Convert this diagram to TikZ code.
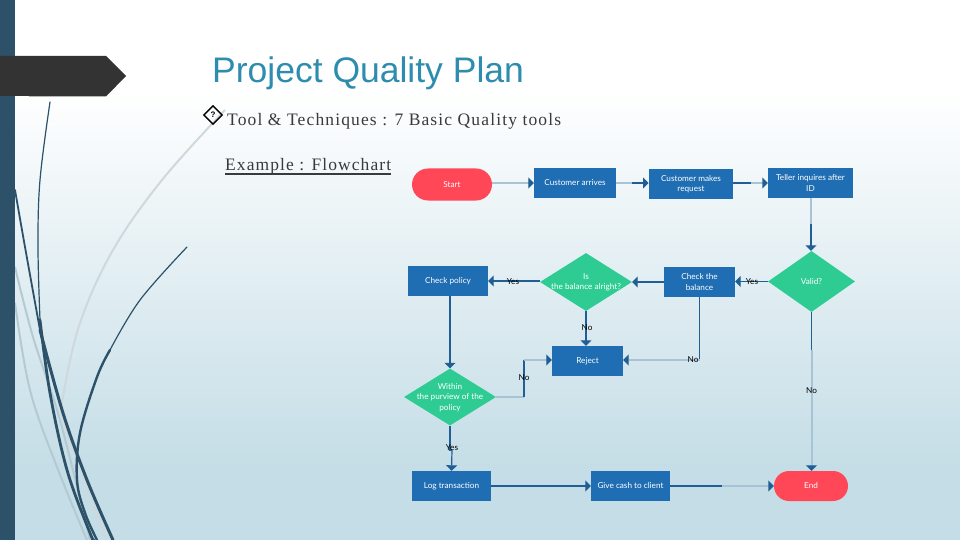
\documentclass[tikz,border=0pt]{standalone}
\usepackage{fontspec}
\setmainfont{Liberation Serif}
\newfontfamily\titlefont{Liberation Sans}
\newfontfamily\chartfont{Lato}
\usetikzlibrary{shapes.geometric,shapes.misc,arrows.meta,positioning}
\definecolor{barblue}{HTML}{2C5169}
\definecolor{tagdark}{HTML}{333333}
\definecolor{titleblue}{HTML}{2E8CAE}
\definecolor{bodygrey}{HTML}{3A3A3A}
\definecolor{boxblue}{HTML}{1F6DB3}
\definecolor{linkdark}{HTML}{1F5F95}
\definecolor{linklight}{HTML}{A8C3D6}
\definecolor{dgreen}{HTML}{2ECC93}
\definecolor{tred}{HTML}{FF4757}
\definecolor{bgend}{HTML}{C4DDE6}
\definecolor{swirlgrey}{HTML}{CFD8DC}
\definecolor{swirlblue}{HTML}{B4CAD3}
\newcommand\dtext[1]{\makebox[0pt][c]{\smash{\raisebox{-2.5pt}{$\vcenter{\hbox{\begin{tabular}{@{}c@{}}#1\end{tabular}}}$}}}}
\tikzset{
  x=1pt,y=-1pt,
  chart/.style={font=\chartfont\fontsize{8.2}{10.5}\selectfont,text=white,align=center,inner sep=0pt},
  proc/.style={chart,fill=boxblue,draw=none,minimum height=30pt},
  dec/.style={chart,fill=dgreen,diamond},
  term/.style={chart,fill=tred,rounded rectangle,minimum height=32pt},
  lab/.style={font=\chartfont\fontsize{8.2}{10}\selectfont,text=black,inner sep=0pt},
  darkl/.style={draw=linkdark,line width=1.2pt},
  lightl/.style={draw=linklight,line width=2pt},
  tip/.style={-{Triangle[length=5.5pt,width=11pt,color=linkdark]}},
  swirl/.style={draw=barblue,line cap=round},
}
\begin{document}
\begin{tikzpicture}
\useasboundingbox (0,0) rectangle (960,540);
% background
\fill[white] (0,0) rectangle (960,90);
\shade[top color=white,bottom color=bgend] (0,90) rectangle (960,470);
\fill[bgend] (0,470) rectangle (960,540);
% swirls
\draw[swirlblue,line width=2pt] plot[smooth,tension=.6] coordinates {(15,267) (33,337) (60,420) (90,540)};
\draw[swirlblue,line width=2pt] plot[smooth,tension=.6] coordinates {(15,303) (30,390) (57,467) (87,540)};
\draw[swirlgrey,line width=2pt] plot[smooth,tension=.6] coordinates {(225,110) (162,180) (113,250) (80,323) (63,397) (63,420) (80,467) (107,540)};
\draw[swirl,line width=1.2pt] plot[smooth,tension=.6] coordinates {(50,102) (40,180) (38,247) (40,320)};
\draw[swirl,line width=2.8pt] plot[smooth,tension=.6] coordinates {(40,320) (50,393) (67,470) (90,533) (94,540)};
\draw[swirl,line width=1.8pt] plot[smooth,tension=.6] coordinates {(15,190) (25,247) (40,330)};
\draw[swirl,line width=3pt] plot[smooth,tension=.6] coordinates {(40,330) (63,413) (87,480) (113,540)};
\draw[swirl,line width=1.2pt] plot[smooth,tension=.6] coordinates {(187,247) (140,300) (110,350)};
\draw[swirl,line width=2.4pt] plot[smooth,tension=.6] coordinates {(110,350) (97,377) (80,433) (77,480) (85,513) (97,540)};
% left bar and tag
\fill[barblue] (0,0) rectangle (15,540);
\fill[tagdark] (0,56) -- (106,56) -- (126,76) -- (106,96.5) -- (29,96.5) -- (29,96) -- (0,96) -- cycle;
% header text
\node[anchor=base west,inner sep=0pt,font=\titlefont\fontsize{35.5}{38}\selectfont,text=titleblue] (title) at (212,82.5) {Project Quality Plan};
\node[diamond,draw=black,line width=1.4pt,inner sep=0pt,minimum size=19pt,font=\titlefont\bfseries\fontsize{8}{8}\selectfont] (icon) at (213,115) {?};
\node[anchor=base west,inner sep=0pt,font=\addfontfeatures{LetterSpace=6.5}\fontsize{17.5}{20}\selectfont,text=bodygrey] (tools) at (227,126) {Tool \& Techniques : 7 Basic Quality tools};
\node[anchor=base west,inner sep=0pt,font=\addfontfeatures{LetterSpace=6.2}\fontsize{17.5}{20}\selectfont,text=bodygrey] (example) at (225,170.5) {Example : Flowchart};
\draw[bodygrey,line width=1.5pt] ([yshift=-3.5pt]example.base west) -- ([yshift=-3.5pt]example.base east);
% flowchart nodes
\node[term,minimum width=80pt] (start) at (452,184.5) {Start};
\node[proc,minimum width=82pt] (arrive) at (575,183) {Customer arrives};
\node[proc,minimum width=84.5pt] (request) at (691,184) {Customer makes\\request};
\node[proc,minimum width=85pt] (teller) at (810.5,183) {Teller inquires after\\ID};
\node[dec,minimum width=87pt,minimum height=61pt] (valid) at (811.5,281.5) {\dtext{Valid?}};
\node[proc,minimum width=71pt] (balance) at (699.5,282) {Check the\\balance};
\node[dec,minimum width=92pt,minimum height=58pt] (alright) at (586,282) {\dtext{Is\\the balance alright?}};
\node[proc,minimum width=80pt] (policy) at (448,281) {Check policy};
\node[proc,minimum width=71pt] (reject) at (587.5,361) {Reject};
\node[dec,minimum width=92pt,minimum height=57pt] (within) at (450,397) {\dtext{Within\\the purview of the\\policy}};
\node[proc,minimum width=79pt] (log) at (451.5,486) {Log transaction};
\node[proc,minimum width=79pt] (cash) at (630.5,486) {Give cash to client};
\node[term,minimum width=74pt,minimum height=30pt] (end) at (811,486) {End};
% way points
\coordinate (m1) at (632,183);
\coordinate (m2) at (751,183);
\coordinate (m3) at (811,224);
\coordinate (m4) at (811.5,350);
\coordinate (m5) at (699.5,360);
\coordinate (m6) at (524,397);
\coordinate (m7) at (524,360);
\coordinate (m8) at (452,450);
\coordinate (m9) at (450,450);
\coordinate (m10) at (722,486);
% connectors
\draw[lightl,tip] (start.east |- arrive.west) -- (arrive.west);
\draw[lightl] (arrive.east) -- (m1);
\draw[darkl,tip] (m1) -- (request.west |- m1);
\draw[darkl] (request.east |- m2) -- (m2);
\draw[lightl,tip] (m2) -- (teller.west);
\draw[lightl] (teller.south -| m3) -- (m3);
\draw[darkl,tip] (m3) -- (m3 |- valid.north);
\draw[darkl,tip] (valid.west) -- (valid.west -| balance.east);
\draw[darkl,tip] (balance.west) -- (alright.east);
\draw[darkl,tip] (alright.west |- policy.east) -- (policy.east);
\draw[darkl,tip] (policy.south -| within.north) -- (within.north);
\draw[darkl,tip] (alright.south) -- (alright.south |- reject.north);
\draw[darkl] (balance.south) -- (m5);
\draw[lightl,tip] (m5) -- (reject.east |- m5);
\draw[darkl] (valid.south) -- (m4);
\draw[lightl,tip] (m4) -- (m4 |- end.north);
\draw[lightl] (within.east) -- (m6);
\draw[darkl] (m6) -- (m7);
\draw[lightl,tip] (m7) -- (reject.west |- m7);
\draw[darkl] (within.south) -- (m9) -- (m8);
\draw[darkl,tip] (m8) -- (log.north);
\draw[darkl,tip] (log.east) -- (cash.west);
\draw[darkl] (cash.east) -- (m10);
\draw[lightl,tip] (m10) -- (end.west);
% labels
\node[lab] (y1) at (513,282) {Yes};
\node[lab] (y2) at (752,282) {Yes};
\node[lab] (n1) at (587,328) {No};
\node[lab] (n2) at (693,360) {No};
\node[lab] (n3) at (524,378) {No};
\node[lab] (n4) at (811.5,391) {No};
\node[lab] (y3) at (452,448) {Yes};
\end{tikzpicture}
\end{document}
